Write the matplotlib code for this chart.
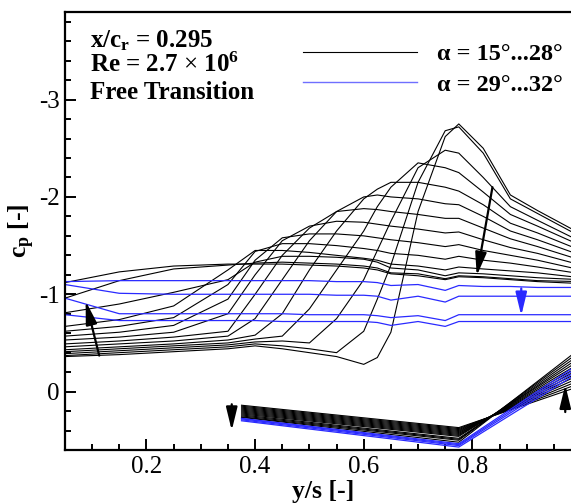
import matplotlib
matplotlib.use('Agg')
import matplotlib.pyplot as plt
from matplotlib.lines import Line2D
from matplotlib.ticker import MultipleLocator

plt.rcParams['font.family'] = ['Liberation Serif', 'DejaVu Serif']
plt.rcParams['mathtext.fontset'] = 'custom'
plt.rcParams['mathtext.rm'] = 'Liberation Serif'
plt.rcParams['mathtext.it'] = 'Liberation Serif:italic'
plt.rcParams['mathtext.bf'] = 'Liberation Serif:bold'
plt.rcParams['axes.unicode_minus'] = False

# spanwise stations (upper surface)
y_s = [0.05, 0.15, 0.25, 0.35, 0.40, 0.45, 0.50, 0.55, 0.60, 0.625,
       0.65, 0.70, 0.75, 0.775, 0.82, 0.87, 0.92, 1.00]

# alpha = 15 ... 28 deg
alpha_black = [15, 16, 17, 18, 19, 20, 21, 22, 23, 24, 25, 26, 27, 28]
cp_black = [
    [-0.36, -0.38, -0.41, -0.44, -0.47, -0.44, -0.40, -0.36, -0.28, -0.35, -0.61, -1.85, -2.62, -2.75, -2.50, -2.02, -1.86, -1.62],
    [-0.37, -0.40, -0.43, -0.46, -0.49, -0.47, -0.44, -0.40, -0.62, -0.95, -1.30, -2.15, -2.68, -2.72, -2.45, -1.98, -1.83, -1.59],
    [-0.39, -0.42, -0.45, -0.48, -0.51, -0.52, -0.50, -0.75, -1.15, -1.45, -1.75, -2.30, -2.48, -2.45, -2.20, -1.90, -1.76, -1.54],
    [-0.41, -0.44, -0.47, -0.50, -0.54, -0.57, -0.85, -1.25, -1.65, -1.90, -2.10, -2.35, -2.30, -2.25, -2.05, -1.82, -1.70, -1.50],
    [-0.43, -0.46, -0.49, -0.53, -0.58, -0.80, -1.25, -1.65, -1.98, -2.08, -2.15, -2.15, -2.10, -2.06, -1.92, -1.73, -1.63, -1.45],
    [-0.46, -0.49, -0.52, -0.57, -0.75, -1.15, -1.55, -1.85, -2.00, -2.02, -2.00, -1.98, -1.93, -1.92, -1.80, -1.65, -1.56, -1.40],
    [-0.49, -0.52, -0.56, -0.62, -1.00, -1.40, -1.68, -1.85, -1.88, -1.87, -1.85, -1.82, -1.78, -1.78, -1.68, -1.57, -1.49, -1.35],
    [-0.53, -0.56, -0.61, -0.80, -1.20, -1.55, -1.70, -1.75, -1.74, -1.72, -1.70, -1.67, -1.63, -1.64, -1.56, -1.48, -1.42, -1.30],
    [-0.57, -0.61, -0.68, -0.95, -1.35, -1.58, -1.62, -1.62, -1.60, -1.58, -1.56, -1.53, -1.49, -1.51, -1.45, -1.40, -1.35, -1.25],
    [-0.62, -0.67, -0.76, -1.10, -1.44, -1.52, -1.52, -1.50, -1.47, -1.45, -1.42, -1.40, -1.36, -1.39, -1.35, -1.32, -1.28, -1.21],
    [-0.67, -0.74, -0.88, -1.25, -1.45, -1.45, -1.43, -1.40, -1.37, -1.35, -1.31, -1.29, -1.25, -1.28, -1.26, -1.24, -1.22, -1.17],
    [-0.81, -0.90, -1.02, -1.15, -1.33, -1.39, -1.39, -1.38, -1.36, -1.33, -1.27, -1.25, -1.19, -1.22, -1.21, -1.19, -1.17, -1.15],
    [-0.96, -1.14, -1.26, -1.30, -1.32, -1.33, -1.32, -1.31, -1.29, -1.27, -1.22, -1.21, -1.16, -1.19, -1.18, -1.16, -1.14, -1.13],
    [-1.12, -1.23, -1.29, -1.31, -1.31, -1.31, -1.30, -1.29, -1.27, -1.25, -1.21, -1.19, -1.15, -1.18, -1.17, -1.15, -1.13, -1.11],
]

# alpha = 29 ... 32 deg
alpha_blue = [29, 30, 31, 32]
cp_blue = [
    [-1.13, -1.14, -1.14, -1.14, -1.14, -1.14, -1.14, -1.13, -1.13, -1.12, -1.09, -1.10, -1.04, -1.09, -1.08, -1.08, -1.07, -1.07],
    [-1.10, -1.01, -1.00, -1.00, -1.00, -1.00, -1.00, -0.99, -0.99, -0.98, -0.94, -0.98, -0.92, -0.98, -0.98, -0.98, -0.98, -0.98],
    [-0.96, -0.80, -0.80, -0.80, -0.80, -0.80, -0.79, -0.79, -0.79, -0.78, -0.76, -0.78, -0.73, -0.79, -0.79, -0.79, -0.79, -0.79],
    [-0.79, -0.73, -0.73, -0.73, -0.73, -0.72, -0.72, -0.72, -0.72, -0.71, -0.68, -0.72, -0.67, -0.72, -0.72, -0.72, -0.72, -0.72],
]

# lower surface stations
y_s_low = [0.375, 0.775, 1.00]
cp_black_low = [
    [0.14, 0.37, -0.06], [0.15, 0.38, -0.09], [0.16, 0.39, -0.12], [0.17, 0.40, -0.15],
    [0.18, 0.41, -0.18], [0.19, 0.42, -0.21], [0.20, 0.43, -0.24], [0.21, 0.44, -0.27],
    [0.22, 0.45, -0.30], [0.23, 0.46, -0.33], [0.24, 0.48, -0.36], [0.25, 0.49, -0.39],
    [0.26, 0.50, -0.42], [0.265, 0.52, -0.45],
]
cp_blue_low = [
    [0.275, 0.535, -0.30], [0.28, 0.545, -0.27], [0.29, 0.555, -0.24], [0.30, 0.57, -0.21],
]

# trend arrows (tail, head)
arrows_black = [((0.113, -0.37), (0.088, -0.93)),
                ((0.837, -2.10), (0.808, -1.19)),
                ((0.357, 0.13), (0.357, 0.40)),
                ((0.971, 0.21), (0.971, -0.07))]
arrows_blue = [((0.89, -1.06), (0.89, -0.78))]

blue = '#2a2aff'

fig = plt.figure(figsize=(5.71, 5.04), dpi=100)
ax = fig.add_axes([65 / 571, 1 - 450 / 504, 516 / 571, 438 / 504])

for row in cp_black:
    ax.plot(y_s, row, color='k', lw=0.8)
for row in cp_black_low:
    ax.plot(y_s_low, row, color='k', lw=0.8)
for row in cp_blue:
    ax.plot(y_s, row, color=blue, lw=0.9)
for row in cp_blue_low:
    ax.plot(y_s_low, row, color=blue, lw=0.9)

astyle = '-|>,head_length=0.7,head_width=0.17'
for tail, head in arrows_black:
    ax.annotate('', xy=head, xytext=tail,
                arrowprops=dict(arrowstyle=astyle, color='k', lw=1.6,
                                mutation_scale=20, shrinkA=0, shrinkB=0))
for tail, head in arrows_blue:
    ax.annotate('', xy=head, xytext=tail,
                arrowprops=dict(arrowstyle=astyle, color=blue, lw=1.6,
                                mutation_scale=20, shrinkA=0, shrinkB=0))

ax.set_xlim(0.05, 1.0)
ax.set_ylim(0.6, -3.9)
ax.xaxis.set_major_locator(MultipleLocator(0.2))
ax.xaxis.set_minor_locator(MultipleLocator(0.05))
ax.yaxis.set_major_locator(MultipleLocator(1))
ax.yaxis.set_minor_locator(MultipleLocator(0.2))
ax.set_xticks([0.2, 0.4, 0.6, 0.8])
ax.set_yticks([-3, -2, -1, 0])
ax.tick_params(which='both', direction='in', top=False, right=False,
               width=1.4, labelsize=18)
ax.tick_params(which='major', length=8, pad=4)
ax.tick_params(which='minor', length=4.5)
for sp in ax.spines.values():
    sp.set_linewidth(1.6)

ax.set_xlabel('y/s [-]', fontsize=18.5, fontweight='bold')
ax.xaxis.set_label_coords(0.5, -0.068)
ax.set_ylabel(r'c$_\mathbf{p}$ [-]', fontsize=18.5, fontweight='bold')
ax.yaxis.set_label_coords(-0.055, 0.5)

ax.text(0.048, 0.920, r'x/c$_\mathbf{r}$ = 0.295', transform=ax.transAxes,
        fontsize=18, fontweight='bold', va='baseline')
ax.text(0.048, 0.863, r'Re = 2.7 $\times$ 10$^\mathbf{6}$', transform=ax.transAxes,
        fontsize=18, fontweight='bold', va='baseline')
ax.text(0.048, 0.801, 'Free Transition', transform=ax.transAxes,
        fontsize=18, fontweight='bold', va='baseline')

handles = [Line2D([], [], color='k', lw=0.8), Line2D([], [], color='#6f6fff', lw=1.0)]
labels = ['α = %d°...%d°' % (alpha_black[0], alpha_black[-1]),
          'α = %d°...%d°' % (alpha_blue[0], alpha_blue[-1])]
ax.legend(handles, labels, loc='upper left', bbox_to_anchor=(0.461, 0.929),
          frameon=False, borderpad=0, borderaxespad=0, handlelength=4.7,
          handletextpad=0.8, labelspacing=0.36,
          prop={'size': 17.5, 'weight': 'bold'})

fig.savefig('out.png', dpi=100)
